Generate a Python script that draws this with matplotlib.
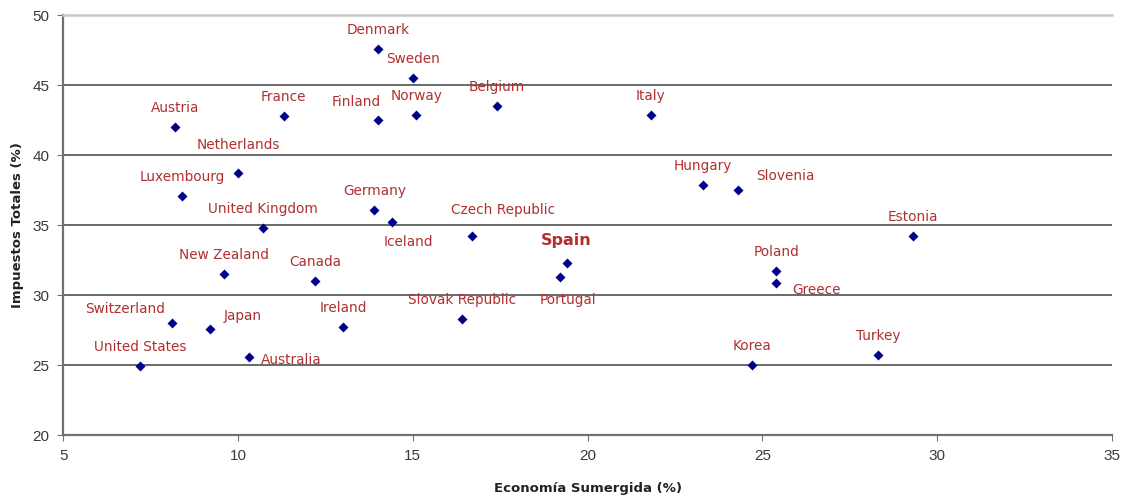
import numpy as np
import matplotlib
matplotlib.use("Agg")
import matplotlib.pyplot as plt

# Economía sumergida (%) vs impuestos totales (%)
countries = ["Denmark", "Sweden", "Finland", "Norway", "Belgium", "Italy",
             "Austria", "France", "Netherlands", "Luxembourg", "United Kingdom",
             "Germany", "Iceland", "Czech Republic", "Hungary", "Slovenia",
             "Estonia", "New Zealand", "Canada", "Switzerland", "Japan",
             "Ireland", "United States", "Australia", "Spain", "Portugal",
             "Slovak Republic", "Poland", "Greece", "Korea", "Turkey"]
shadow_economy = [14.0, 15.0, 14.0, 15.1, 17.4, 21.8,
                  8.2, 11.3, 10.0, 8.4, 10.7,
                  13.9, 14.4, 16.7, 23.3, 24.3,
                  29.3, 9.6, 12.2, 8.1, 9.2,
                  13.0, 7.2, 10.3, 19.4, 19.2,
                  16.4, 25.4, 25.4, 24.7, 28.3]
total_taxes = [47.6, 45.5, 42.5, 42.9, 43.5, 42.9,
               42.0, 42.8, 38.7, 37.1, 34.8,
               36.1, 35.2, 34.2, 37.9, 37.5,
               34.2, 31.5, 31.0, 28.0, 27.6,
               27.7, 24.9, 25.6, 32.3, 31.3,
               28.3, 31.7, 30.9, 25.0, 25.7]

# label placement (pixels from the point), default is centred above
label_offsets = {
    "Finland": (-22, 18), "Netherlands": (0, 28), "Iceland": (16, -20),
    "Czech Republic": (31, 26), "Slovenia": (47, 14), "Spain": (0, 22),
    "Portugal": (8, -23), "Greece": (40, -7), "Switzerland": (-47, 14),
    "Japan": (33, 13), "Australia": (43, -3),
}

label_color = "#b03030"

fig = plt.figure(figsize=(11.26, 4.97), dpi=100)
ax = fig.add_axes([0.0562, 0.1247, 0.9314, 0.8445])

ax.scatter(shadow_economy, total_taxes, marker="D", s=26, color="#00008b",
           zorder=3, linewidths=0)

for name, x, y in zip(countries, shadow_economy, total_taxes):
    dx, dy = label_offsets.get(name, (0, 19))
    bold = name == "Spain"
    ax.annotate(name, (x, y), xytext=(dx, dy), textcoords="offset pixels",
                ha="center", va="center", color=label_color,
                fontsize=11.5 if bold else 9.8,
                fontweight="bold" if bold else "normal",
                family="DejaVu Sans")

ax.set_xlim(5, 35)
ax.set_ylim(20, 50)
ax.set_xticks(np.arange(5, 36, 5))
ax.set_yticks(np.arange(20, 51, 5))

for yv in np.arange(25, 50, 5):
    ax.axhline(yv, color="#505050", lw=1.2, zorder=1)

ax.spines["right"].set_visible(False)
ax.spines["top"].set_color("#c8c8c8")
ax.spines["top"].set_linewidth(1.8)
for s in ("left", "bottom"):
    ax.spines[s].set_color("#707070")
    ax.spines[s].set_linewidth(1.6)

ax.tick_params(axis="both", direction="out", length=4, color="#707070",
               labelsize=11, labelcolor="#3a3a3a", pad=6)
for lab in ax.get_xticklabels() + ax.get_yticklabels():
    lab.set_family("Liberation Sans")

ax.set_xlabel("Economía Sumergida (%)", fontsize=9.5, fontweight="bold",
              color="#222222", labelpad=14, family="DejaVu Sans")
ax.set_ylabel("Impuestos Totales (%)", fontsize=9.5, fontweight="bold",
              color="#222222", labelpad=6, family="DejaVu Sans")

fig.savefig("out.png", dpi=100)
